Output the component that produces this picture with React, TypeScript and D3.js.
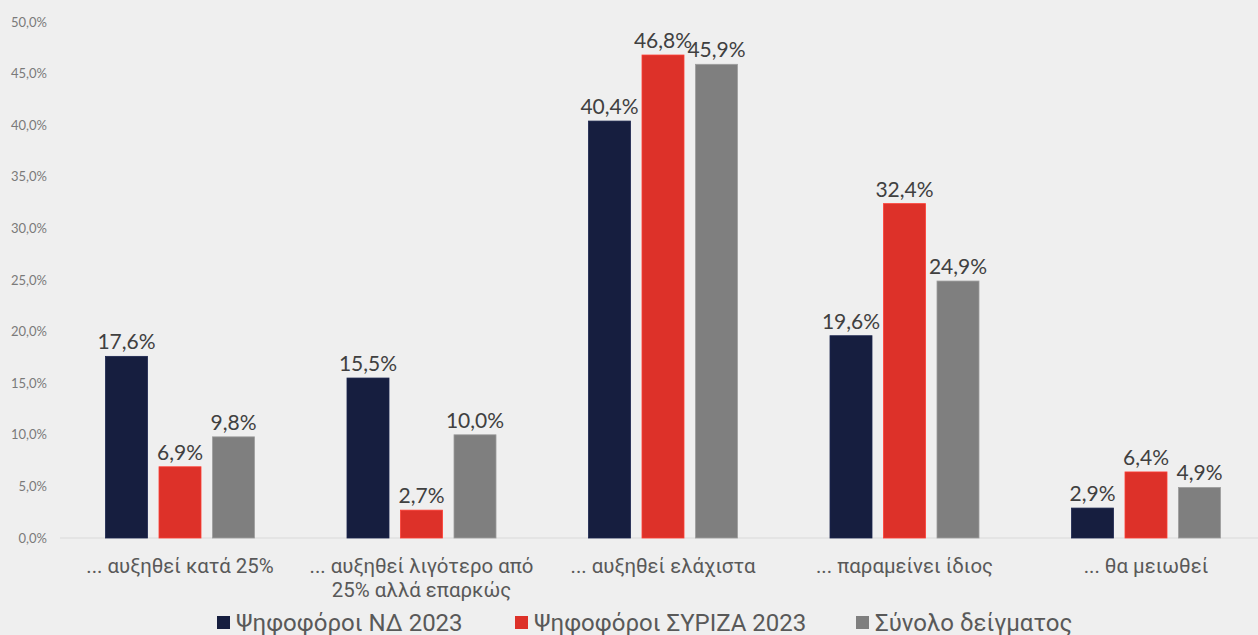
import React from "react";
import * as d3 from "d3";

const categories = [
  "... αυξηθεί κατά 25%",
  "... αυξηθεί λιγότερο από\n25% αλλά επαρκώς",
  "... αυξηθεί ελάχιστα",
  "... παραμείνει ίδιος",
  "... θα μειωθεί",
];
const seriesNames = ["Ψηφοφόροι ΝΔ 2023", "Ψηφοφόροι ΣΥΡΙΖΑ 2023", "Σύνολο δείγματος"];
const ndValues = [17.6, 15.5, 40.4, 19.6, 2.9];
const syrizaValues = [6.9, 2.7, 46.8, 32.4, 6.4];
const totalValues = [9.8, 10.0, 45.9, 24.9, 4.9];
const yTicks = [0, 5, 10, 15, 20, 25, 30, 35, 40, 45, 50];
const colors = ["#161e3f", "#dd3129", "#7f7f7f"];

const W = 1258;
const H = 635;

const fmt = (v: number) => v.toFixed(1).replace(".", ",") + "%";

export default function App() {
  const series = [ndValues, syrizaValues, totalValues];
  const y = d3.scaleLinear().domain([0, 50]).range([538, 22]);
  const x0 = d3
    .scaleBand<string>()
    .domain(categories)
    .range([59.25, 1266.75])
    .paddingInner(0.383)
    .paddingOuter(0.1915);
  const x1 = d3
    .scaleBand<string>()
    .domain(seriesNames)
    .range([0, x0.bandwidth()])
    .paddingInner(0.215)
    .paddingOuter(0);

  const legendX = [217, 515, 856];

  return (
    <div style={{ position: "absolute", left: 0, top: 0 }}>
      <svg width={W} height={H} style={{ display: "block", background: "#efefef" }}>
        <rect x={0} y={0} width={W} height={H} fill="#efefef" />
        {yTicks.map((t) => (
          <text
            key={t}
            x={47}
            y={y(t)}
            dy="0.35em"
            textAnchor="end"
            fontFamily="Lato"
            fontSize={13}
            fill="#7a7a7a"
          >
            {fmt(t)}
          </text>
        ))}
        <line x1={60} x2={W} y1={y(0)} y2={y(0)} stroke="#d9d9d9" strokeWidth={1} />
        {categories.map((c, ci) => (
          <g key={c} transform={`translate(${x0(c)},0)`}>
            {series.map((vals, si) => {
              const v = vals[ci];
              const bx = x1(seriesNames[si])!;
              const bw = x1.bandwidth();
              return (
                <g key={si}>
                  <rect
                    x={bx}
                    y={y(v)}
                    width={bw}
                    height={y(0) - y(v)}
                    fill={colors[si]}
                    stroke={d3.color(colors[si])!.brighter(0.6).formatHex()}
                    strokeWidth={0.8}
                  />
                  <text
                    x={bx + bw / 2}
                    y={y(v) - 7}
                    textAnchor="middle"
                    fontFamily="Lato"
                    fontSize={21}
                    fill="#404040"
                  >
                    {fmt(v)}
                  </text>
                </g>
              );
            })}
            {c.split("\n").map((line, li) => (
              <text
                key={li}
                x={x0.bandwidth() / 2}
                y={573 + li * 24}
                textAnchor="middle"
                fontFamily="Roboto"
                fontSize={20.4}
                fill="#595959"
              >
                {line}
              </text>
            ))}
          </g>
        ))}
        {seriesNames.map((s, i) => (
          <g key={s} transform={`translate(${legendX[i]},0)`}>
            <rect x={0} y={616} width={13} height={13} fill={colors[i]} />
            <text x={19} y={630.5} fontFamily="Roboto" fontSize={24} fill="#595959">
              {s}
            </text>
          </g>
        ))}
      </svg>
    </div>
  );
}
